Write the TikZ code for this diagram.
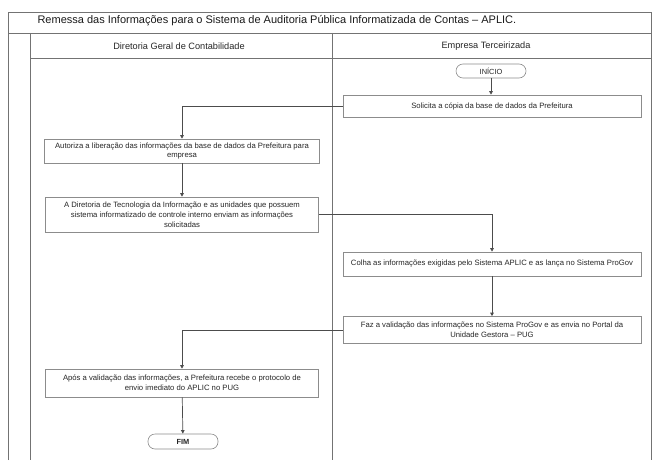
\documentclass[tikz,border=0pt]{standalone}
\usepackage{fontspec}
\setmainfont{Liberation Sans}
\usetikzlibrary{arrows.meta}
\tikzset{
  frameline/.style={draw=black!55, line width=0.8pt},
  procbox/.style={draw=black!45, line width=0.6pt, align=center, inner sep=1pt,
     font=\fontsize{7.7}{9.8}\selectfont, text=black!85},
  termbox/.style={draw=black!45, line width=0.6pt, rounded corners=7pt,
     font=\fontsize{7.4}{8}\selectfont, text=black!85, inner sep=0pt},
  flow/.style={draw=black!70, line width=0.7pt, -{Triangle[length=3.5pt,width=3.5pt]}},
}
\begin{document}
\begin{tikzpicture}[x=1pt,y=-1pt]
\useasboundingbox (0,0) rectangle (655,460);
% frame
\draw[frameline] (8,460) -- (8,12) -- (651,12) -- (651,460);
\draw[frameline] (8,33) -- (651,33);
\draw[frameline] (30,33) -- (30,460);
\draw[frameline] (30,58) -- (651,58);
\draw[frameline] (332,33) -- (332,460);
% titles
\node[anchor=west, font=\fontsize{11}{12}\selectfont, text=black!90] (title) at (34,21) {Remessa das Informações para o Sistema de Auditoria Pública Informatizada de Contas -- APLIC.};
\node[font=\fontsize{9.2}{10}\selectfont, text=black!85] (h1) at (179,46) {Diretoria Geral de Contabilidade};
\node[font=\fontsize{9.2}{10}\selectfont, text=black!85] (h2) at (486,46) {Empresa Terceirizada};
% nodes
\node[termbox, minimum width=70, minimum height=14] (ini) at (491,71) {INÍCIO};
\node[procbox, minimum width=298, minimum height=22] (sol) at (492,106) {Solicita a cópia da base de dados da Prefeitura};
\node[procbox, minimum width=275, minimum height=24] (aut) at (182,151) {Autoriza a liberação das informações da base de dados da Prefeitura para\\ empresa};
\node[procbox, minimum width=273, minimum height=35] (dir) at (182,214.5) {A Diretoria de Tecnologia da Informação e as unidades que possuem\\ sistema informatizado de controle interno enviam as informações\\ solicitadas};
\node[procbox, minimum width=298, minimum height=24] (col) at (492,264) {Colha as informações exigidas pelo Sistema APLIC e as lança no Sistema ProGov};
\node[procbox, minimum width=298, minimum height=27] (faz) at (492,330) {Faz a validação das informações no Sistema ProGov e as envia no Portal da\\ Unidade Gestora -- PUG};
\node[procbox, minimum width=273, minimum height=28] (apo) at (182,383) {Após a validação das informações, a Prefeitura recebe o protocolo de\\ envio imediato do APLIC no PUG};
\node[termbox, minimum width=70, minimum height=15, font=\fontsize{7.4}{8}\selectfont\bfseries] (fim) at (183,441.5) {FIM};
% connectors
\draw[flow] (ini) -- (ini |- sol.north);
\draw[flow] (sol.west) -| (aut.north);
\draw[flow] (aut) -- (dir);
\draw[flow] (dir.east) -| (col.north);
\draw[flow] (col) -- (faz);
\draw[flow] (faz.west) -| (apo.north);
\draw[flow] (apo) -- (fim);
\end{tikzpicture}
\end{document}
